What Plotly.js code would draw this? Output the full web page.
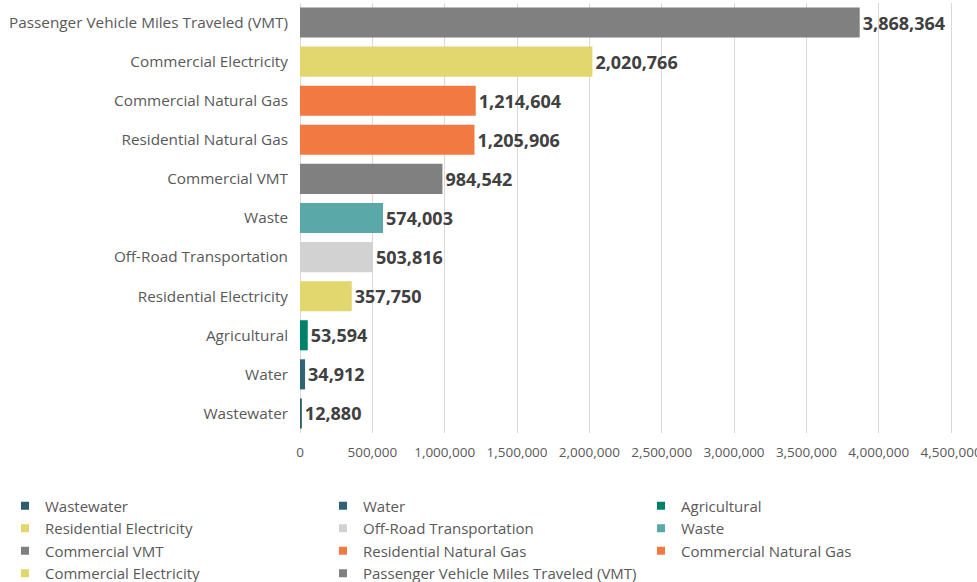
<!DOCTYPE html>
<html>
<head>
<meta charset="utf-8">
<script src="https://cdn.plot.ly/plotly-3.0.1.min.js"></script>
<style>html,body{margin:0;padding:0;background:#fff;}#chart{width:977px;height:582px;}</style>
</head>
<body>
<div id="chart"></div>
<script>
// Data, bottom-to-top order (also legend order)
const categories = [
  "Wastewater",
  "Water",
  "Agricultural",
  "Residential Electricity",
  "Off-Road Transportation",
  "Waste",
  "Commercial VMT",
  "Residential Natural Gas",
  "Commercial Natural Gas",
  "Commercial Electricity",
  "Passenger Vehicle Miles Traveled (VMT)"
];
const values = [12880, 34912, 53594, 357750, 503816, 574003, 984542, 1205906, 1214604, 2020766, 3868364];
const colors = ["#2b5f6e", "#2e6475", "#00826a", "#e2d66e", "#d2d2d2", "#5aa9a8", "#808080", "#f27942", "#f27942", "#e2d66e", "#808080"];
const xTickVals = [0, 500000, 1000000, 1500000, 2000000, 2500000, 3000000, 3500000, 4000000, 4500000];

const FONT = "Open Sans, Noto Sans, sans-serif";
const fmt = v => v.toLocaleString("en-US");

const traces = [];
categories.forEach((c, i) => {
  traces.push({
    type: "bar",
    orientation: "h",
    y: [c],
    x: [values[i]],
    name: c,
    marker: {color: colors[i]},
    text: [fmt(values[i])],
    textposition: "outside",
    cliponaxis: false,
    textfont: {family: FONT, size: 18, color: "#404040", weight: "bold"},
    showlegend: false,
    hoverinfo: "x+y"
  });
});
// legend-only markers
categories.forEach((c, i) => {
  traces.push({
    type: "scatter",
    mode: "markers",
    x: [null],
    y: [null],
    name: c,
    marker: {symbol: "square", size: 8, color: colors[i]},
    showlegend: true,
    hoverinfo: "skip"
  });
});

const layout = {
  width: 977,
  height: 582,
  margin: {l: 300, r: 23, t: 3, b: 149, autoexpand: false},
  paper_bgcolor: "#ffffff",
  plot_bgcolor: "#ffffff",
  barmode: "overlay",
  bargap: 0.23,
  font: {family: FONT, color: "#595959"},
  xaxis: {
    range: [0, 4520000],
    tickvals: xTickVals,
    ticktext: xTickVals.map(fmt),
    showgrid: true,
    gridcolor: "#d9d9d9",
    gridwidth: 1,
    zeroline: true,
    zerolinecolor: "#d9d9d9",
    showline: false,
    ticks: "",
    ticklabelstandoff: 9,
    ticklabeloverflow: "allow",
    tickfont: {family: FONT, size: 13.5, color: "#595959"},
    fixedrange: true
  },
  yaxis: {
    type: "category",
    categoryorder: "array",
    categoryarray: categories,
    showgrid: false,
    zeroline: false,
    showline: false,
    ticks: "",
    ticklen: 0,
    ticklabelstandoff: 11,
    tickfont: {family: FONT, size: 15.3, color: "#595959"},
    automargin: false,
    fixedrange: true
  },
  showlegend: true,
  legend: {
    orientation: "h",
    xref: "paper",
    yref: "paper",
    x: (5 - 300) / 654,
    y: -(489.5 - 433) / 430,
    xanchor: "left",
    yanchor: "top",
    traceorder: "normal",
    entrywidth: 273,
    entrywidthmode: "pixels",
    font: {family: FONT, size: 15, color: "#595959"},
    itemclick: false,
    itemdoubleclick: false,
    tracegroupgap: 0
  }
};

Plotly.newPlot("chart", traces, layout, {displayModeBar: false, staticPlot: true});
</script>
</body>
</html>
